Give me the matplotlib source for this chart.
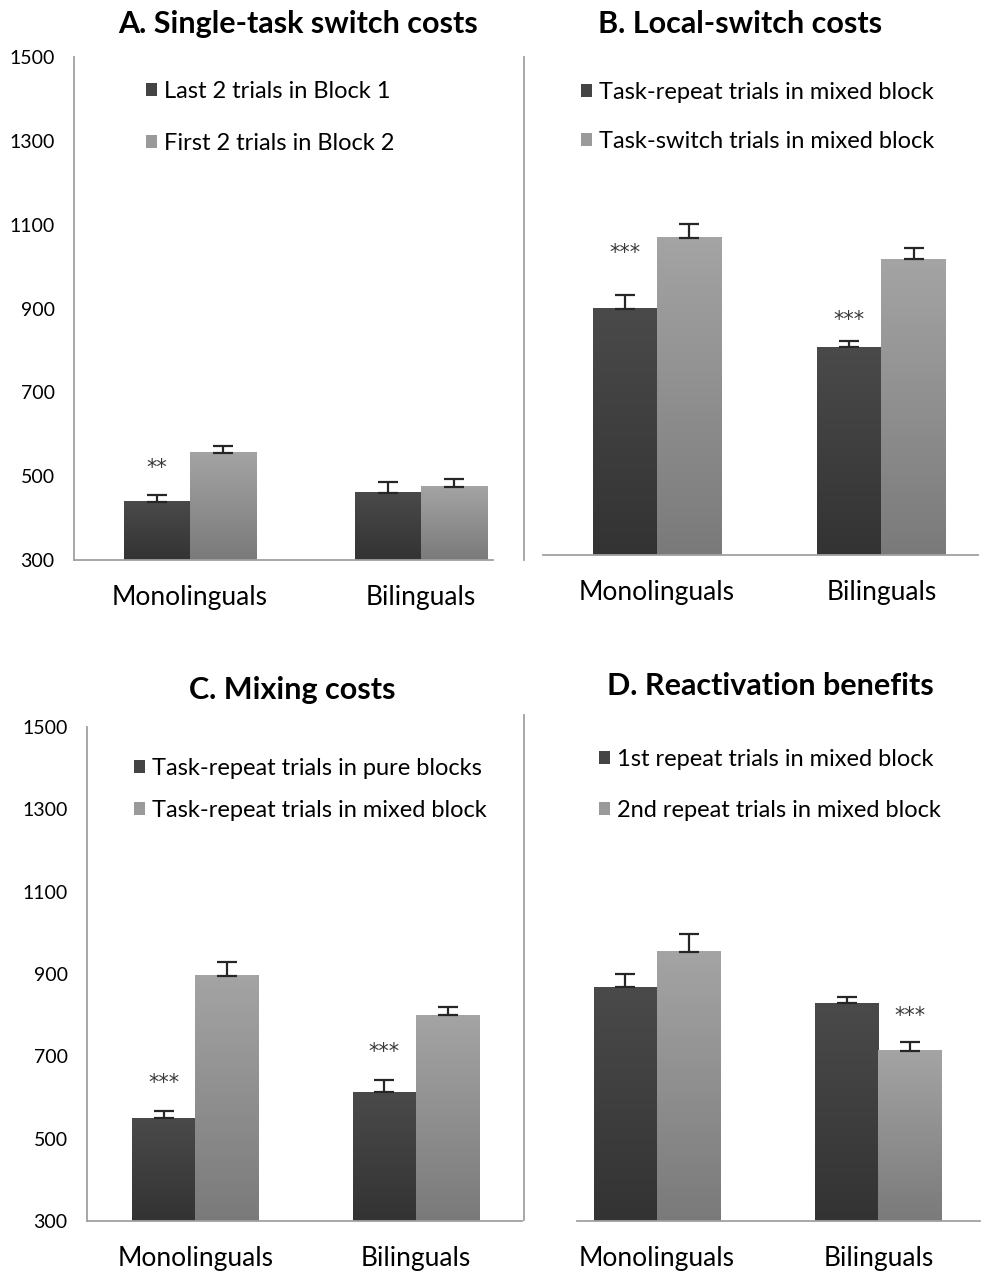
import numpy as np
import matplotlib.pyplot as plt
from matplotlib.colors import LinearSegmentedColormap
from matplotlib.patches import Patch
from matplotlib.lines import Line2D

plt.rcParams['font.family'] = ['Lato', 'DejaVu Sans']

groups = ['Monolinguals', 'Bilinguals']

# reaction times (ms) and standard errors, per panel: (first series, second series)
single_task_means = ([439, 460], [556, 475])
single_task_errs = ([16, 26], [17, 18])
local_switch_means = ([893, 801], [1064, 1013])
local_switch_errs = ([33, 15], [34, 27])
mixing_means = ([550, 613], [896, 800])
mixing_errs = ([16, 30], [33, 19])
reactivation_means = ([868, 829], [954, 713])
reactivation_errs = ([32, 15], [44, 21])

panel_titles = ['A. Single-task switch costs', 'B. Local-switch costs',
                'C. Mixing costs', 'D. Reactivation benefits']
legend_labels = [
    ['Last 2 trials in Block 1', 'First 2 trials in Block 2'],
    ['Task-repeat trials in mixed block', 'Task-switch trials in mixed block'],
    ['Task-repeat trials in pure blocks', 'Task-repeat trials in mixed block'],
    ['1st repeat trials in mixed block', '2nd repeat trials in mixed block'],
]
# significance marks: (group index, series index, y value, text)
stars = [
    [(0, 0, 520, '**')],
    [(0, 0, 1028, '***'), (1, 0, 867, '***')],
    [(0, 0, 636, '***'), (1, 0, 710, '***')],
    [(1, 1, 798, '***')],
]
yticks = [300, 500, 700, 900, 1100, 1300, 1500]

W, H = 982, 1272
fig = plt.figure(figsize=(W / 100, H / 100), dpi=100)


def px_axes(x0, y0, x1, y1):
    return fig.add_axes([x0 / W, 1 - y1 / H, (x1 - x0) / W, (y1 - y0) / H])


dark_cmap = LinearSegmentedColormap.from_list('dk', ['#333333', '#4a4a4a'])
light_cmap = LinearSegmentedColormap.from_list('lt', ['#7a7a7a', '#a4a4a4'])
grad = np.linspace(0, 1, 256).reshape(-1, 1)

# axes boxes in pixels, x limits, legend anchor, legend spacing
layouts = [
    dict(box=(74, 57, 493, 560), xlim=(-0.50, 1.31), show_y=True, leg=(146, 81), sp=1.3),
    dict(box=(543, 57, 978, 555), xlim=(-0.507, 1.43), show_y=False, leg=(581, 82), sp=1.17),
    dict(box=(87, 727, 522, 1221), xlim=(-0.49, 1.48), show_y=True, leg=(134, 758), sp=0.87),
    dict(box=(577, 727, 980, 1221), xlim=(-0.362, 1.46), show_y=False, leg=(599, 749), sp=1.25),
]
all_means = [single_task_means, local_switch_means, mixing_means, reactivation_means]
all_errs = [single_task_errs, local_switch_errs, mixing_errs, reactivation_errs]

x = np.arange(len(groups))
bw = 0.286
for i, lay in enumerate(layouts):
    ax = px_axes(*lay['box'])
    means, errs = all_means[i], all_errs[i]
    for s, cmap in enumerate([dark_cmap, light_cmap]):
        xs = x + (s - 0.5) * bw
        bars = ax.bar(xs, np.array(means[s]) - 300, bw, bottom=300,
                      color='none', edgecolor='none', zorder=2)
        for b in bars:
            bx, by = b.get_x(), b.get_y()
            ax.imshow(grad, extent=[bx, bx + b.get_width(), by, by + b.get_height()],
                      origin='lower', aspect='auto', cmap=cmap, zorder=2)
        ax.errorbar(xs, means[s], yerr=[np.zeros(len(groups)), errs[s]], fmt='none',
                    ecolor='#262626', elinewidth=1.6, capsize=7, capthick=1.6, zorder=3)
    for g, s, yv, txt in stars[i]:
        ax.text(x[g] + (s - 0.5) * bw, yv, txt, ha='center', va='center',
                fontsize=15, color='#3a3a3a', family='DejaVu Sans')
    ax.set_xlim(*lay['xlim'])
    ax.set_ylim(300, 1500)
    ax.set_xticks(x)
    ax.set_xticklabels(groups, fontsize=19)
    ax.tick_params(axis='x', length=0, pad=18)
    for sp in ['top', 'right']:
        ax.spines[sp].set_visible(False)
    ax.spines['bottom'].set_color('#a0a0a0')
    ax.spines['bottom'].set_linewidth(1.3)
    if lay['show_y']:
        ax.set_yticks(yticks)
        ax.set_yticklabels([str(v) for v in yticks], fontsize=14)
        ax.tick_params(axis='y', length=0, pad=14)
        ax.spines['left'].set_color('#a0a0a0')
        ax.spines['left'].set_linewidth(1.3)
    else:
        ax.set_yticks([])
        ax.spines['left'].set_visible(False)
    handles = [Patch(facecolor='#444444'), Patch(facecolor='#9a9a9a')]
    lx, ly = lay['leg']
    ax.legend(handles, legend_labels[i], loc='upper left',
              bbox_to_anchor=(lx / W, 1 - ly / H), bbox_transform=fig.transFigure,
              frameon=False, fontsize=17, handlelength=0.47, handleheight=0.47,
              handletextpad=0.3, labelspacing=lay['sp'], borderpad=0, borderaxespad=0)

# dividing lines between the left and right panels
for y0, y1 in [(57, 560), (715, 1220)]:
    fig.add_artist(Line2D([524 / W, 524 / W], [1 - y0 / H, 1 - y1 / H],
                          transform=fig.transFigure, color='#a0a0a0', lw=1.3))

title_pos = [(298, 24), (740, 24), (292, 690), (770, 686)]
for t, (tx, ty) in zip(panel_titles, title_pos):
    fig.text(tx / W, 1 - ty / H, t, ha='center', va='center',
             fontsize=22, fontweight='bold')

fig.savefig('out.png', dpi=100)
